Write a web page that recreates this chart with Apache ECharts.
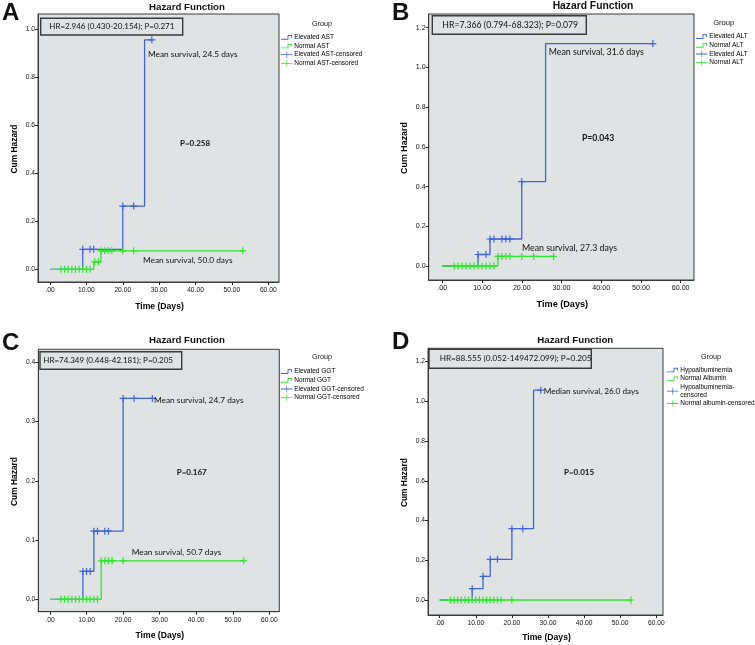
<!DOCTYPE html>
<html>
<head>
<meta charset="utf-8">
<script src="https://cdn.jsdelivr.net/npm/echarts@6/dist/echarts.min.js"></script>
<style>html,body{margin:0;padding:0;background:#fff}#c{width:755px;height:645px}</style>
</head>
<body>
<div id="c"></div>
<script>
// ---------- DATA ----------
const xTicks = [0, 10, 20, 30, 40, 50, 60];
// Panel A (AST)
const aBlueT = [0, 9, 20, 26, 28];
const aBlueH = [0, 0.083, 0.263, 0.955, 0.955];
const aBlueCensT = [9, 11, 12, 20, 23, 28];
const aBlueCensH = [0.083, 0.083, 0.083, 0.263, 0.263, 0.955];
const aGreenT = [0, 12, 14, 53];
const aGreenH = [0, 0.031, 0.077, 0.077];
const aGreenCensT = [3, 4, 5, 6, 7, 8, 9, 10, 11, 12.3, 13.3, 14, 15, 16, 17, 20, 23, 53];
const aGreenCensH = [0, 0, 0, 0, 0, 0, 0, 0, 0, 0.031, 0.031, 0.077, 0.077, 0.077, 0.077, 0.077, 0.077, 0.077];
const aYTicks = [0, 0.2, 0.4, 0.6, 0.8, 1.0];
// Panel B (ALT)
const bBlueT = [0, 9, 12, 20, 26, 53];
const bBlueH = [0, 0.058, 0.136, 0.425, 1.12, 1.12];
const bBlueCensT = [9, 11, 12, 13, 15, 16, 17, 20, 53];
const bBlueCensH = [0.058, 0.058, 0.136, 0.136, 0.136, 0.136, 0.136, 0.425, 1.12];
const bGreenT = [0, 14, 28];
const bGreenH = [0, 0.048, 0.048];
const bGreenCensT = [3, 4, 5, 6, 7, 8, 9, 10, 11, 12, 13, 14, 15, 16, 17, 20, 23, 28];
const bGreenCensH = [0, 0, 0, 0, 0, 0, 0, 0, 0, 0, 0, 0.048, 0.048, 0.048, 0.048, 0.048, 0.048, 0.048];
const bYTicks = [0, 0.2, 0.4, 0.6, 0.8, 1.0, 1.2];
// Panel C (GGT)
const cBlueT = [0, 9, 12, 20, 28];
const cBlueH = [0, 0.047, 0.115, 0.339, 0.339];
const cBlueCensT = [9, 10, 11, 12, 13, 15, 16, 20, 23, 28];
const cBlueCensH = [0.047, 0.047, 0.047, 0.115, 0.115, 0.115, 0.115, 0.339, 0.339, 0.339];
const cGreenT = [0, 14, 53];
const cGreenH = [0, 0.065, 0.065];
const cGreenCensT = [3, 4, 5, 6, 7, 8, 9, 10, 11, 12, 13, 14, 15, 16, 17, 20, 53];
const cGreenCensH = [0, 0, 0, 0, 0, 0, 0, 0, 0, 0, 0, 0.065, 0.065, 0.065, 0.065, 0.065, 0.065];
const cYTicks = [0, 0.1, 0.2, 0.3, 0.4];
// Panel D (Albumin)
const dBlueT = [0, 9, 12, 14, 20, 26, 28];
const dBlueH = [0, 0.057, 0.119, 0.205, 0.359, 1.056, 1.056];
const dBlueCensT = [9, 12, 14, 16, 20, 23, 28];
const dBlueCensH = [0.057, 0.119, 0.205, 0.205, 0.359, 0.359, 1.056];
const dGreenT = [0, 53];
const dGreenH = [0, 0];
const dGreenCensT = [3, 4, 5, 6, 7, 8, 9, 10, 11, 12, 13, 14, 15, 16, 17, 20, 53];
const dGreenCensH = [0, 0, 0, 0, 0, 0, 0, 0, 0, 0, 0, 0, 0, 0, 0, 0, 0];
const dYTicks = [0, 0.2, 0.4, 0.6, 0.8, 1.0, 1.2];

const namesA = ['Elevated AST', 'Normal AST', 'Elevated AST-censored', 'Normal AST-censored'];
const namesB = ['Elevated ALT', 'Normal ALT', 'Elevated ALT ', 'Normal ALT '];
const namesC = ['Elevated GGT', 'Normal GGT', 'Elevated GGT-censored', 'Normal GGT-censored'];
const namesD = ['Hypoalbuminemia', 'Normal Albumin', 'Hypoalbuminemia-\ncensored', 'Normal albumin-censored'];

// ---------- STYLE ----------
const BLUE = '#4163dc';
const GREEN = '#2fe82f';
const PLOT_BG = '#dfe3e3';
const SANS = "'Liberation Sans',Arial,sans-serif";
const NOTE = "Lato,'Open Sans',sans-serif";
const PLUS = 'path://M2.9,0H4.1V2.9H7V4.1H4.1V7H2.9V4.1H0V2.9H2.9Z';
const STEP_ICON = 'path://M0,0L0.01,0L0,0.01Z M26,16L25.99,16L26,15.99Z M0,11.5H15V3H25V9H23V5H17V13.5H0Z';
const CENS_ICON = 'path://M0,0L0.01,0L0,0.01Z M26,16L25.99,16L26,15.99Z M0,7H12.5V0.5H14V7H26V9H14V15.5H12.5V9H0Z';

const zip = (t, h) => t.map((v, i) => [v, h[i]]);

const panels = [
  { grid: { left: 38, top: 14, width: 241, height: 268 }, xMin: -3.30, xMax: 62.95, yMin: -0.0529, yMax: 1.0624,
    yTicks: aYTicks, fs: 1, yNameX: 15, xNameY: 307,
    blue: zip(aBlueT, aBlueH), blueC: zip(aBlueCensT, aBlueCensH), green: zip(aGreenT, aGreenH), greenC: zip(aGreenCensT, aGreenCensH),
    names: namesA, legend: { left: 281, top: 33.5 } },
  { grid: { left: 428.7, top: 14, width: 265.3, height: 266 }, xMin: -3.42, xMax: 63.35, yMin: -0.0705, yMax: 1.269,
    yTicks: bYTicks, fs: 1.06, yNameX: 404.7, xNameY: 304,
    blue: zip(bBlueT, bBlueH), blueC: zip(bBlueCensT, bBlueCensH), green: zip(bGreenT, bGreenH), greenC: zip(bGreenCensT, bGreenCensH),
    names: namesB, legend: { left: 696, top: 32.8 } },
  { grid: { left: 38.3, top: 349.3, width: 241, height: 262.4 }, xMin: -3.2, xMax: 62.73, yMin: -0.0209, yMax: 0.4219,
    yTicks: cYTicks, fs: 1, yNameX: 15, xNameY: 636,
    blue: zip(cBlueT, cBlueH), blueC: zip(cBlueCensT, cBlueCensH), green: zip(cGreenT, cGreenH), greenC: zip(cGreenCensT, cGreenCensH),
    names: namesC, legend: { left: 281, top: 367.8 } },
  { grid: { left: 428, top: 348.3, width: 235, height: 266.7 }, xMin: -3.24, xMax: 61.86, yMin: -0.0755, yMax: 1.267,
    yTicks: dYTicks, fs: 1, yNameX: 404.7, xNameY: 638,
    blue: zip(dBlueT, dBlueH), blueC: zip(dBlueCensT, dBlueCensH), green: zip(dGreenT, dGreenH), greenC: zip(dGreenCensT, dGreenCensH),
    names: namesD, legend: { left: 667, top: 366.2 } }
];

const option = { animation: false, backgroundColor: '#fff', grid: [], xAxis: [], yAxis: [], series: [], legend: [], graphic: [] };

panels.forEach((p, i) => {
  option.grid.push(Object.assign({ show: true, backgroundColor: PLOT_BG, borderColor: '#3c3c3c', borderWidth: 1 }, p.grid));
  option.xAxis.push({
    type: 'value', gridIndex: i, min: p.xMin, max: p.xMax,
    axisLine: { show: true, onZero: false, lineStyle: { color: '#3c3c3c', width: 1 } },
    axisTick: { show: true, length: 3, customValues: xTicks, lineStyle: { color: '#222' } },
    axisLabel: { customValues: xTicks, fontFamily: SANS, fontSize: 6.7 * p.fs, color: '#111', margin: 5,
      formatter: v => v === 0 ? '.00' : v.toFixed(2) },
    splitLine: { show: false }
  });
  option.yAxis.push({
    type: 'value', gridIndex: i, min: p.yMin, max: p.yMax,
    axisLine: { show: true, onZero: false, lineStyle: { color: '#3c3c3c', width: 1 } },
    axisTick: { show: true, length: 3, customValues: p.yTicks, lineStyle: { color: '#222' } },
    axisLabel: { customValues: p.yTicks, fontFamily: SANS, fontSize: 6.7 * p.fs, color: '#111', margin: 3,
      formatter: v => v.toFixed(1) },
    splitLine: { show: false }
  });
  const n = p.names;
  option.series.push(
    { name: n[0], type: 'line', step: 'end', xAxisIndex: i, yAxisIndex: i, data: p.blue, showSymbol: false,
      lineStyle: { color: BLUE, width: 1.3 }, itemStyle: { color: BLUE }, z: 2 },
    { name: n[1], type: 'line', step: 'end', xAxisIndex: i, yAxisIndex: i, data: p.green, showSymbol: false,
      lineStyle: { color: GREEN, width: 1.3 }, itemStyle: { color: GREEN }, z: 3 },
    { name: n[2], type: 'scatter', xAxisIndex: i, yAxisIndex: i, data: p.blueC, symbol: PLUS, symbolSize: 7,
      itemStyle: { color: BLUE, opacity: 1 }, z: 4 },
    { name: n[3], type: 'scatter', xAxisIndex: i, yAxisIndex: i, data: p.greenC, symbol: PLUS, symbolSize: 7,
      itemStyle: { color: GREEN, opacity: 1 }, z: 5 }
  );
  option.legend.push({
    orient: 'vertical', left: p.legend.left, top: p.legend.top, selectedMode: false,
    itemWidth: 13, itemHeight: 7, itemGap: 1.2, padding: 0,
    textStyle: { fontFamily: SANS, fontSize: 6.5, color: '#000', lineHeight: 7.5, padding: [0, 0, 0, -4] },
    data: [
      { name: n[0], icon: STEP_ICON }, { name: n[1], icon: STEP_ICON },
      { name: n[2], icon: CENS_ICON }, { name: n[3], icon: CENS_ICON }
    ]
  });
  // axis names
  const g = p.grid;
  option.graphic.push({ type: 'text', z: 101, x: p.yNameX, y: g.top + g.height / 2 + 1, rotation: Math.PI / 2,
    style: { text: 'Cum Hazard', font: 'bold ' + (8.4 * p.fs) + 'px ' + SANS, fill: '#000', align: 'center', verticalAlign: 'middle' } });
  option.graphic.push({ type: 'text', z: 101, x: g.left + g.width / 2 + 1, y: p.xNameY,
    style: { text: 'Time (Days)', font: 'bold ' + (8.6 * p.fs) + 'px ' + SANS, fill: '#000', align: 'center', verticalAlign: 'middle' } });
});

// ---------- ANNOTATIONS ----------
const LETTER = 'bold 24px ' + SANS;
const notes = [
  // panel letters
  { t: 'A', x: 2, y: 13, f: LETTER },
  { t: 'B', x: 392, y: 13, f: LETTER },
  { t: 'C', x: 2, y: 343, f: LETTER },
  { t: 'D', x: 392, y: 342, f: LETTER },
  // titles
  { t: 'Hazard Function', x: 187, y: 7, f: 'bold 9.7px ' + SANS, a: 'center' },
  { t: 'Hazard Function', x: 593, y: 6.5, f: 'bold 10.3px ' + SANS, a: 'center' },
  { t: 'Hazard Function', x: 187, y: 340.7, f: 'bold 9.7px ' + SANS, a: 'center' },
  { t: 'Hazard Function', x: 575.3, y: 340, f: 'bold 9.7px ' + SANS, a: 'center' },
  // Group headers
  { t: 'Group', x: 322, y: 24, f: '7.2px ' + SANS, a: 'center' },
  { t: 'Group', x: 723.7, y: 23, f: '7.6px ' + SANS, a: 'center' },
  { t: 'Group', x: 322, y: 357.3, f: '7.2px ' + SANS, a: 'center' },
  { t: 'Group', x: 711, y: 356.7, f: '7.2px ' + SANS, a: 'center' },
  // survival notes
  { t: 'Mean survival, 24.5 days', x: 148, y: 54, f: '8.3px ' + NOTE },
  { t: 'Mean survival, 50.0 days', x: 143, y: 260, f: '8.3px ' + NOTE },
  { t: 'Mean survival, 31.6 days', x: 548.7, y: 51.7, f: '8.8px ' + NOTE },
  { t: 'Mean survival, 27.3 days', x: 522, y: 248, f: '8.8px ' + NOTE },
  { t: 'Mean survival, 24.7 days', x: 154, y: 400, f: '8.3px ' + NOTE },
  { t: 'Mean survival, 50.7 days', x: 131.7, y: 552, f: '8.3px ' + NOTE },
  { t: 'Median survival, 26.0 days', x: 543.7, y: 391, f: '8.2px ' + NOTE },
  // p values
  { t: 'P=0.258', x: 180, y: 143, f: 'bold 8px ' + NOTE },
  { t: 'P=0.043', x: 582, y: 138, f: 'bold 8.6px ' + NOTE },
  { t: 'P=0.167', x: 176.7, y: 472.7, f: 'bold 8px ' + NOTE },
  { t: 'P=0.015', x: 564, y: 472.7, f: 'bold 8px ' + NOTE }
];
const hrBoxes = [
  { t: 'HR=2.946 (0.430-20.154); P=0.271', x: 40.7, y: 18.3, w: 142, h: 16.7, fs: 8.0, tx: 49.3 },
  { t: 'HR=7.366 (0.794-68.323); P=0.079', x: 432.3, y: 15.7, w: 154, h: 18.6, fs: 8.7, tx: 442.3 },
  { t: 'HR=74.349 (0.448-42.181); P=0.205', x: 40, y: 351.7, w: 141.7, h: 17.6, fs: 8.0, tx: 43.3 },
  { t: 'HR=88.555 (0.052-149472.099); P=0.205', x: 429, y: 349.3, w: 162.3, h: 19, fs: 8.2, tx: 439.7 }
];
hrBoxes.forEach(b => {
  option.graphic.push({ type: 'rect', z: 100, shape: { x: b.x, y: b.y, width: b.w, height: b.h },
    style: { fill: PLOT_BG, stroke: '#3a3a3a', lineWidth: 1.4 } });
  option.graphic.push({ type: 'text', z: 101, x: b.tx, y: b.y + b.h / 2,
    style: { text: b.t, font: b.fs + 'px ' + NOTE, fill: '#111', align: 'left', verticalAlign: 'middle' } });
});
notes.forEach(n => {
  option.graphic.push({ type: 'text', z: 101, x: n.x, y: n.y,
    style: { text: n.t, font: n.f, fill: n.c || '#111', align: n.a || 'left', verticalAlign: 'middle' } });
});

const chart = echarts.init(document.getElementById('c'), null, { renderer: 'canvas' });
chart.setOption(option);
</script>
</body>
</html>
